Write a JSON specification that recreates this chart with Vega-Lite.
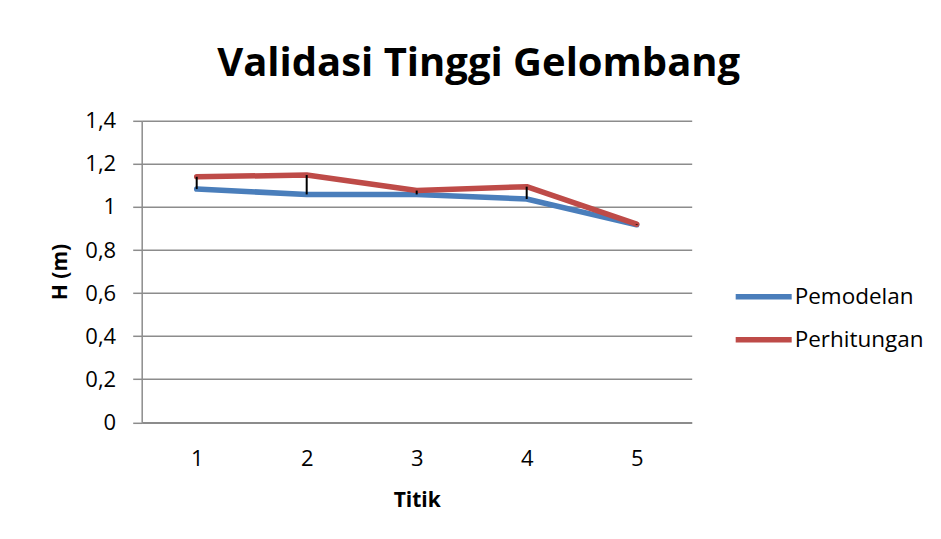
{
  "$schema": "https://vega.github.io/schema/vega-lite/v6.json",
  "width": 550,
  "height": 301.5,
  "autosize": {"type": "none"},
  "padding": {"left": 141.7, "top": 120.8, "right": 249, "bottom": 117},
  "background": "white",
  "title": {
    "text": "Validasi Tinggi Gelombang",
    "font": "Open Sans",
    "fontSize": 40,
    "fontWeight": "bold",
    "color": "black",
    "anchor": "middle",
    "frame": "group",
    "dx": 62,
    "offset": 26
  },
  "data": {
    "values": [
      {"titik": "1", "Pemodelan": 1.083, "Perhitungan": 1.140},
      {"titik": "2", "Pemodelan": 1.058, "Perhitungan": 1.148},
      {"titik": "3", "Pemodelan": 1.058, "Perhitungan": 1.076},
      {"titik": "4", "Pemodelan": 1.037, "Perhitungan": 1.094},
      {"titik": "5", "Pemodelan": 0.917, "Perhitungan": 0.920}
    ]
  },
  "config": {
    "view": {"stroke": null},
    "axis": {
      "labelFont": "Open Sans",
      "labelFontSize": 22,
      "labelColor": "black",
      "titleFont": "Open Sans",
      "titleFontSize": 21,
      "titleFontWeight": "bold",
      "titleColor": "black",
      "domainColor": "#8c8c8c",
      "domainWidth": 1.5,
      "tickColor": "#8c8c8c",
      "tickWidth": 1.5,
      "gridColor": "#8c8c8c",
      "gridWidth": 1.5
    },
    "legend": {
      "labelFont": "Open Sans",
      "labelFontSize": 22.5,
      "labelColor": "black"
    }
  },
  "encoding": {
    "x": {
      "field": "titik",
      "type": "ordinal",
      "scale": {"type": "point", "padding": 0.5},
      "axis": {
        "title": "Titik",
        "labelAngle": 0,
        "ticks": false,
        "grid": false,
        "labelPadding": 26,
        "titlePadding": 20
      }
    }
  },
  "layer": [
    {
      "transform": [{"fold": ["Pemodelan", "Perhitungan"], "as": ["seri", "H"]}],
      "mark": {"type": "line", "strokeWidth": 5.5, "strokeCap": "round", "strokeJoin": "round"},
      "encoding": {
        "y": {
          "field": "H",
          "type": "quantitative",
          "scale": {"domain": [0, 1.4], "nice": false},
          "axis": {
            "title": "H (m)",
            "values": [0, 0.2, 0.4, 0.6, 0.8, 1, 1.2, 1.4],
            "labelExpr": "replace(format(datum.value, '.1~f'), '.', ',')",
            "tickSize": 9,
            "labelPadding": 17,
            "titlePadding": 14
          }
        },
        "color": {
          "field": "seri",
          "type": "nominal",
          "scale": {"domain": ["Pemodelan", "Perhitungan"], "range": ["#4A7EBB", "#BE4B48"]},
          "legend": {
            "title": null,
            "orient": "none",
            "legendX": 591,
            "legendY": 145,
            "symbolType": "stroke",
            "symbolSize": 3136,
            "symbolStrokeWidth": 5.5,
            "labelOffset": 0,
            "rowPadding": -7
          }
        }
      }
    },
    {
      "mark": {"type": "rule", "color": "black", "strokeWidth": 2},
      "encoding": {
        "y": {"field": "Pemodelan", "type": "quantitative"},
        "y2": {"field": "Perhitungan"}
      }
    }
  ]
}
